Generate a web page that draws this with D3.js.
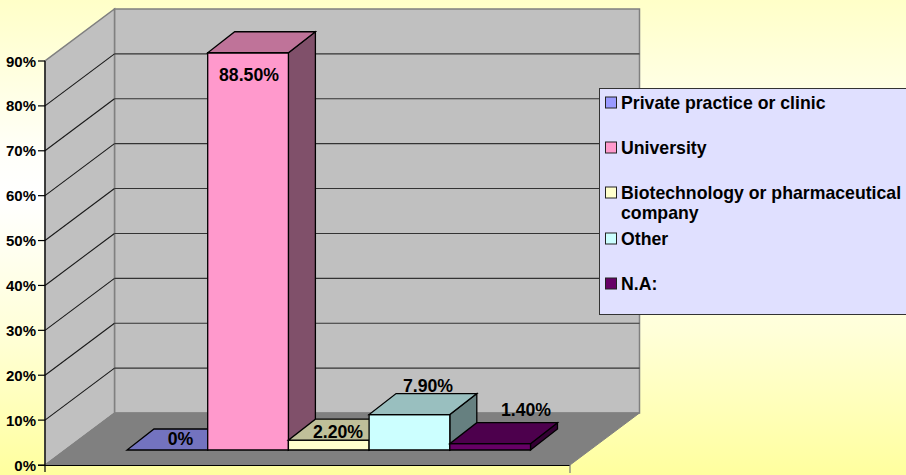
<!DOCTYPE html>
<html><head><meta charset="utf-8">
<script src="https://cdn.jsdelivr.net/npm/d3@7"></script>
<style>html,body{margin:0;padding:0;overflow:hidden}svg{display:block}text{font-family:"Liberation Sans",Arial,sans-serif;font-weight:bold;fill:#000}</style>
</head><body><svg id="c" width="906" height="475"></svg>
<script>
const categories=["Private practice or clinic","University","Biotechnology or pharmaceutical company","Other","N.A:"];
const values=[0,88.5,2.2,7.9,1.4];
const valueLabels=["0%","88.50%","2.20%","7.90%","1.40%"];
const frontColors=["#9999FF","#FF99CC","#FFFFCC","#CCFFFF","#660066"];
const topColors=["#7373BF","#BF7399","#BFBF99","#99BFBF","#4D004D"];
const sideColors=["#666699","#80506A","#80806A","#668080","#330033"];
const yTicks=[0,10,20,30,40,50,60,70,80,90];

const svg=d3.select("#c");
const defs=svg.append("defs");
const g=defs.append("linearGradient").attr("id","bg").attr("x1",0).attr("x2",0).attr("y1",0).attr("y2",1);
[[0,"#FFFFC8"],[0.33,"#FFFFFA"],[0.42,"#FFFFFF"],[0.7,"#FFFFD8"],[1,"#FFFF9E"]].forEach(d=>g.append("stop").attr("offset",d[0]).attr("stop-color",d[1]));
svg.append("rect").attr("width",906).attr("height",475).attr("fill","url(#bg)");

const y=d3.scaleLinear().domain([0,90]).range([465,61]);
const x0=45,x1=570,depthX=69.5,depthY=52;
const wallPoint=(xv,v,d)=>[xv+depthX*d,y(v)-depthY*d];
const poly=(pts,fill,stroke,sw)=>svg.append("polygon").attr("points",pts.map(p=>p.join(",")).join(" ")).attr("fill",fill).attr("stroke",stroke).attr("stroke-width",sw||1).attr("stroke-linejoin","miter");
const line=(a,b,c,w)=>svg.append("line").attr("x1",a[0]).attr("y1",a[1]).attr("x2",b[0]).attr("y2",b[1]).attr("stroke",c).attr("stroke-width",w||1);

poly([wallPoint(x0,0,1),wallPoint(x1,0,1),wallPoint(x1,90,1),wallPoint(x0,90,1)],"#C0C0C0","#808080",1.5);
poly([wallPoint(x0,0,0),wallPoint(x0,0,1),wallPoint(x0,90,1),wallPoint(x0,90,0)],"#C0C0C0","#808080",1.5);
poly([wallPoint(x0,0,0),wallPoint(x1,0,0),wallPoint(x1,0,1),wallPoint(x0,0,1)],"#808080","#808080",1);
yTicks.filter(t=>t>0&&t<90).forEach(t=>{
  line(wallPoint(x0,t,0),wallPoint(x0,t,1),"#1a1a1a",1.1);
  line(wallPoint(x0,t,1),wallPoint(x1,t,1),"#333",1.1);
});

line([x0,61],[x0,472],"#000",1.2);
line([38,465.5],[x1,465.5],"#000",1.2);
line([x1,465],[x1,473],"#777",1.2);
const axisG=svg.append("g").selectAll("g").data(yTicks).join("g");
axisG.append("line").attr("x1",x0-7).attr("x2",x0).attr("y1",d=>y(d)).attr("y2",d=>y(d)).attr("stroke","#000").attr("stroke-width",1.2);
axisG.append("text").attr("x",x0-9).attr("y",d=>y(d)+5.5).attr("text-anchor","end").attr("font-size",15).text(d=>d+"%");

const band=d3.scaleBand().domain(categories).range([127,530.5]);
const base=450,h=d3.scaleLinear().domain([0,90]).range([0,404]);
const dx=27,dy=21;
categories.forEach((c,i)=>{
  const l=band(c),r=l+band.bandwidth(),t=base-h(values[i]);
  if(values[i]>0){
    poly([[r,base],[r+dx,base-dy],[r+dx,t-dy],[r,t]],sideColors[i],"#000",1.3);
    poly([[l,base],[r,base],[r,t],[l,t]],frontColors[i],"#000",1.3);
  }
  poly([[l,t],[r,t],[r+dx,t-dy],[l+dx,t-dy]],topColors[i],"#000",1.3);
});
const labelPos=[[180.5,445],[249,81],[338,437.5],[428,391.5],[526,416]];
valueLabels.forEach((s,i)=>{
  svg.append("text").attr("x",labelPos[i][0]).attr("y",labelPos[i][1]).attr("text-anchor","middle").attr("font-size",17.7).text(s);
});

svg.append("rect").attr("x",599.5).attr("y",88.5).attr("width",320).attr("height",226).attr("fill","#E0E0FF").attr("stroke","#333").attr("stroke-width",1);
const legendY=[102.5,147.5,192.5,238.5,283.5];
const legendLines=[["Private practice or clinic"],["University"],["Biotechnology or pharmaceutical","company"],["Other"],["N.A:"]];
categories.forEach((c,i)=>{
  svg.append("rect").attr("x",605.5).attr("y",legendY[i]-5.5).attr("width",11).attr("height",11).attr("fill",frontColors[i]).attr("stroke","#222").attr("stroke-width",1);
  legendLines[i].forEach((t,j)=>svg.append("text").attr("x",621).attr("y",legendY[i]+6.2+j*20).attr("font-size",17.7).text(t));
});
</script></body></html>
